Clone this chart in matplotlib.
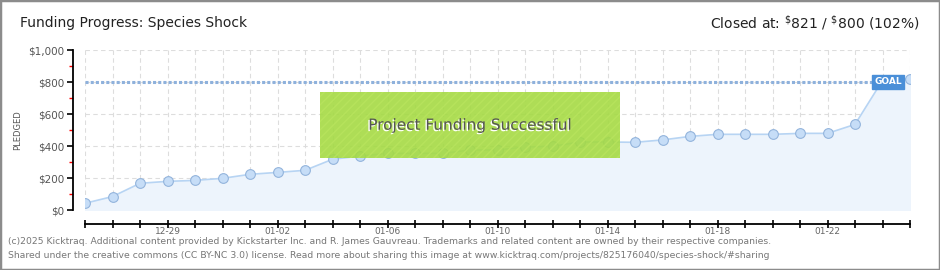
import matplotlib.pyplot as plt
from matplotlib.patches import Rectangle
from matplotlib.ticker import MultipleLocator, FuncFormatter
import matplotlib.patheffects as pe

days = ['12-26', '12-27', '12-28', '12-29', '12-30', '12-31', '01-01', '01-02',
        '01-03', '01-04', '01-05', '01-06', '01-07', '01-08', '01-09', '01-10',
        '01-11', '01-12', '01-13', '01-14', '01-15', '01-16', '01-17', '01-18',
        '01-19', '01-20', '01-21', '01-22', '01-23', '01-24', '01-25']
pledged = [42, 84, 167, 179, 185, 198, 223, 235, 248, 317, 337, 354, 354, 354,
           375, 375, 394, 398, 425, 425, 423, 438, 460, 473, 473, 473, 479, 479,
           535, 810, 821]
goal = 800
label_days = ['12-29', '01-02', '01-06', '01-10', '01-14', '01-18', '01-22']

plt.rcParams['font.family'] = ['DejaVu Sans']

fig = plt.figure(figsize=(9.4, 2.7), dpi=100)
fig.patches.append(Rectangle((0, 0), 1, 1, transform=fig.transFigure,
                             fill=False, edgecolor='#8c8c8c', linewidth=2.5))
ax = fig.add_axes([85 / 940, 60 / 270, 825 / 940, 160 / 270])

x = list(range(len(days)))
ax.fill_between(x, pledged, 0, color='#edf4fc', zorder=1)
ax.plot(x, pledged, color='#b7d4f3', linewidth=1.2, zorder=3)
ax.plot(x, pledged, 'o', markersize=7, markerfacecolor='#c6ddf7',
        markeredgecolor='#93b4dc', markeredgewidth=0.8, zorder=4)

# goal line and label
ax.plot([0, 28.6], [goal, goal], color='#8eb1dc', linewidth=2.2,
        linestyle=(0, (1, 0.7)), zorder=2)
ax.text(29.2, goal, 'GOAL', ha='center', va='center', fontsize=6.5,
        color='white', fontweight='bold', zorder=5,
        bbox=dict(boxstyle='square,pad=0.25', facecolor='#4a8fd8', edgecolor='#4a8fd8'))

ax.set_xlim(0, 30)
ax.set_ylim(0, 1000)

ax.set_xticks(x)
ax.set_xticklabels([d if d in label_days else '' for d in days])
ax.yaxis.set_major_locator(MultipleLocator(200))
ax.yaxis.set_minor_locator(MultipleLocator(100))
ax.yaxis.set_major_formatter(FuncFormatter(lambda v, p: '\\${:,.0f}'.format(v)))

ax.grid(True, which='major', color='#dddddd', linestyle=(0, (4, 3)), linewidth=0.8, zorder=0)
ax.set_axisbelow(True)

for s in ['top', 'right']:
    ax.spines[s].set_visible(False)
ax.spines['left'].set_position(('outward', 9))
ax.spines['bottom'].set_position(('outward', 10))
ax.spines['left'].set_linewidth(1.3)
ax.spines['bottom'].set_linewidth(1.3)

ax.tick_params(axis='x', direction='inout', length=6, width=1.2, colors='black',
               labelcolor='#666666', labelsize=6.5, pad=-1)
ax.tick_params(axis='y', which='major', direction='out', length=4, width=1.2,
               labelcolor='#555555', labelsize=7.5, pad=2)
ax.tick_params(axis='y', which='minor', direction='out', length=3, width=1, color='red')

ax.set_ylabel('PLEDGED', fontsize=6, color='#555555')
ax.yaxis.set_label_coords(-63 / 825, 0.5)

# success banner
ax.add_patch(Rectangle((0.285, 0.325), 0.364, 0.41, transform=ax.transAxes,
                       facecolor='#a5da44', edgecolor='#b7e35d', alpha=0.9,
                       hatch='////', linewidth=0, zorder=6))
ax.text(0.467, 0.53, 'Project Funding Successful', transform=ax.transAxes,
        ha='center', va='center', fontsize=11, color='#555555', zorder=7,
        path_effects=[pe.withSimplePatchShadow(offset=(-1, -1), shadow_rgbFace='white', alpha=1)])

# header
fig.text(20 / 940, 1 - 23 / 270, 'Funding Progress: Species Shock', fontsize=10,
         color='#222222', va='center', ha='left')
fig.text(920 / 940, 1 - 23 / 270, 'Closed at: $^{\\$}$821 / $^{\\$}$800 (102%)', fontsize=10,
         color='#222222', va='center', ha='right')

# footer
fig.text(8 / 940, 1 - 242 / 270,
         '(c)2025 Kicktraq. Additional content provided by Kickstarter Inc. and R. James Gauvreau. '
         'Trademarks and related content are owned by their respective companies.',
         fontsize=6.7, color='#777777', va='center', ha='left')
fig.text(8 / 940, 1 - 256 / 270,
         'Shared under the creative commons (CC BY-NC 3.0) license. Read more about sharing this '
         'image at www.kicktraq.com/projects/825176040/species-shock/#sharing',
         fontsize=6.7, color='#777777', va='center', ha='left')

fig.savefig('out.png', dpi=100)
